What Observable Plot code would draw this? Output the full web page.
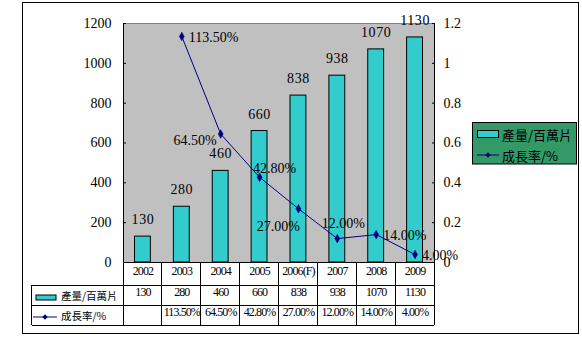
<!DOCTYPE html>
<html><head><meta charset="utf-8">
<script src="https://cdn.jsdelivr.net/npm/d3@7"></script>
<script src="https://cdn.jsdelivr.net/npm/@observablehq/plot@0.6"></script>
<style>
body{margin:0;background:#fff}
.barlab text{letter-spacing:0.6px}
.tbl text{letter-spacing:-0.9px}
</style>
</head><body><div id="chart"></div>
<script>
const years = ["2002","2003","2004","2005","2006(F)","2007","2008","2009"];
const output = [130,280,460,660,838,938,1070,1130];
const growth = [null,1.135,0.645,0.428,0.27,0.12,0.14,0.04];
const leftTicks = [0,200,400,600,800,1000,1200];
const rightTicks = [0,0.2,0.4,0.6,0.8,1,1.2];
const seriesNames = ["產量/百萬片","成長率/%"];
// where each growth label sits relative to its point
const growthLabelSide = [null,"right","left","above","below","above2","right","right"];

const fmtPct = d3.format(".2%");
const rows = years.map((y,i)=>({year:y, output:output[i], growth:growth[i], side:growthLabelSide[i]}));
const gRows = rows.filter(d=>d.growth!=null);
const gy = d => d.growth*1000; // secondary axis 0–1.2 shares the 0–1200 range
const NAVY = "#000080", TEAL = "#33cccc";
const serif = "'Liberation Serif','Noto Sans CJK TC',serif";
const cjk = "'Noto Sans CJK TC','Liberation Serif',sans-serif";

const side = s => gRows.filter(d=>d.side===s);
const plot = Plot.plot({
  width:582, height:339,
  marginLeft:123, marginRight:148, marginTop:23, marginBottom:77,
  x:{domain:years, padding:0, round:false, axis:null},
  y:{domain:[0,1200], label:null},
  style:{fontFamily:serif, fontSize:"14px", background:"white", color:"black"},
  marks:[
    Plot.frame({fill:"#c0c0c0", stroke:"#808080"}),
    Plot.frame({anchor:"left", stroke:"black"}),
    Plot.frame({anchor:"right", stroke:"black"}),
    Plot.ruleY([0], {stroke:"black"}),
    Plot.barY(rows, {x:"year", y:"output", fill:TEAL, stroke:"black", insetLeft:11.5, insetRight:11.5}),
    Plot.text(rows, {x:"year", y:"output", text:d=>String(d.output), dy:-17, fontSize:14, className:"barlab"}),
    Plot.line(gRows, {x:"year", y:gy, stroke:NAVY, strokeWidth:1}),
    Plot.dot(gRows, {x:"year", y:gy, symbol:"diamond", fill:NAVY, stroke:NAVY, strokeWidth:0.5, r:2.6}),
    Plot.text(side("right"), {x:"year", y:gy, text:d=>fmtPct(d.growth), textAnchor:"start", dx:7, dy:1}),
    Plot.text(side("left"), {x:"year", y:gy, text:d=>fmtPct(d.growth), textAnchor:"end", dx:-4, dy:6}),
    Plot.text(side("above"), {x:"year", y:gy, text:d=>fmtPct(d.growth), dx:15, dy:-9}),
    Plot.text(side("below"), {x:"year", y:gy, text:d=>fmtPct(d.growth), dx:-20, dy:18}),
    Plot.text(side("above2"), {x:"year", y:gy, text:d=>fmtPct(d.growth), dx:6, dy:-15}),
    Plot.axisY(leftTicks, {anchor:"left", tickSize:-3, tickPadding:15, fontSize:14, label:null, tickFormat:d=>String(d)}),
    Plot.axisY(rightTicks.map(v=>v*1000), {anchor:"right", tickSize:-3, tickPadding:12, fontSize:14, label:null,
      tickFormat:d=>String(+(d/1000).toFixed(1))}),
    // data table under the plot
    Plot.text(rows, {x:"year", text:"year", frameAnchor:"bottom", dy:12, fontSize:12, className:"tbl"}),
    Plot.text(rows, {x:"year", text:d=>String(d.output), frameAnchor:"bottom", dy:33.5, fontSize:12, className:"tbl"}),
    Plot.text(gRows, {x:"year", text:d=>fmtPct(d.growth), frameAnchor:"bottom", dy:53.5, fontSize:12, className:"tbl"})
  ]
});
document.getElementById("chart").appendChild(plot);

const svg = d3.select(plot);
const xs = plot.scale("x");
const ys = plot.scale("y");
const y0 = ys.apply(0);
const xL = xs.range[0], xR = xs.range[1];
const edges = years.map(y=>xs.apply(y)).concat([xs.apply(years[years.length-1]) + xs.bandwidth]);
const rowY = [y0, y0+23, y0+43.7, y0+63];
const tableLeft = 31.7;
const g = svg.append("g").attr("stroke","black").attr("fill","none").attr("shape-rendering","crispEdges");
edges.forEach(x=>g.append("line").attr("x1",x).attr("x2",x).attr("y1",rowY[0]).attr("y2",rowY[3]));
g.append("line").attr("x1",tableLeft).attr("x2",tableLeft).attr("y1",rowY[1]).attr("y2",rowY[3]);
[1,2,3].forEach(i=>g.append("line").attr("x1",tableLeft).attr("x2",xR).attr("y1",rowY[i]).attr("y2",rowY[i]));
// outer chart border
g.append("rect").attr("x",22.5).attr("y",2.5).attr("width",556).attr("height",331);

// table row keys
const k = svg.append("g").attr("text-anchor","start");
k.append("rect").attr("x",36).attr("y",295).attr("width",20).attr("height",5).attr("fill",TEAL).attr("stroke","black");
k.append("line").attr("x1",33).attr("x2",57).attr("y1",317).attr("y2",317).attr("stroke",NAVY);
k.append("path").attr("d",d3.symbol(d3.symbolDiamond2, 18)()).attr("transform","translate(45,317)").attr("fill",NAVY);
k.selectAll("text.rk").data(seriesNames).join("text").attr("class","rk")
  .attr("x",61).attr("y",(d,i)=>i?315.5:295.5).attr("dominant-baseline","central")
  .attr("font-family",cjk).attr("font-size",10.5).attr("text-anchor","start").text(d=>d);

// legend
const L = svg.append("g").attr("text-anchor","start");
L.append("rect").attr("x",472.5).attr("y",122.5).attr("width",104).attr("height",41.5).attr("fill","#339966").attr("stroke","black");
L.append("rect").attr("x",477.5).attr("y",130.5).attr("width",21).attr("height",7).attr("fill",TEAL).attr("stroke","black");
L.append("line").attr("x1",477).attr("x2",499).attr("y1",155).attr("y2",155).attr("stroke",NAVY);
L.append("path").attr("d",d3.symbol(d3.symbolDiamond2, 18)()).attr("transform","translate(488,155)").attr("fill",NAVY);
L.selectAll("text").data(seriesNames).join("text")
  .attr("x",502).attr("y",(d,i)=>i?155:134.5).attr("dominant-baseline","central")
  .attr("font-family",cjk).attr("font-size",13).attr("text-anchor","start").text(d=>d);
</script>
</body></html>
